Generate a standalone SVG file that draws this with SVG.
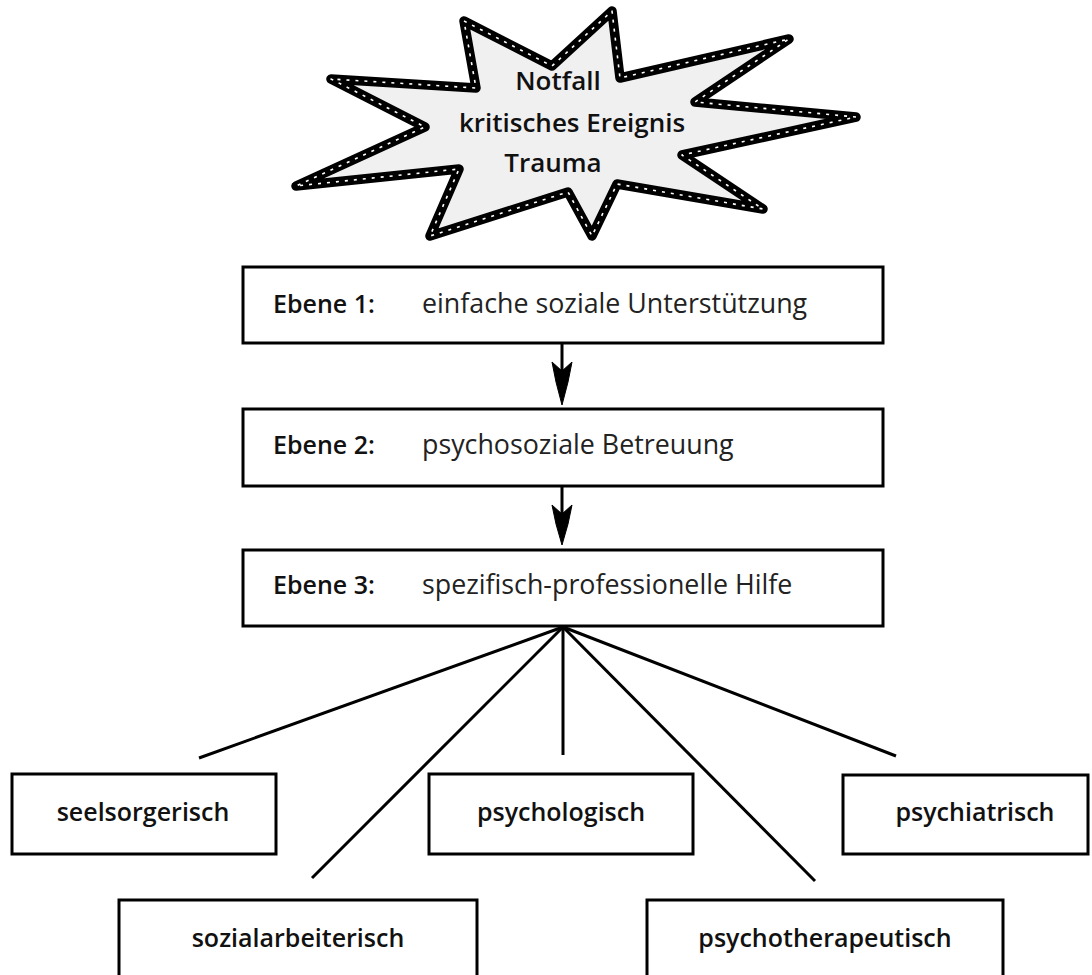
<svg xmlns="http://www.w3.org/2000/svg" width="1092" height="975" viewBox="0 0 1092 975">
  <defs>
    <style>
      .box { fill: #ffffff; stroke: #000000; stroke-width: 3; }
      .lbl { font-family: "Open Sans", "Liberation Sans", sans-serif; font-size: 25px; font-weight: 600; fill: #111111; text-anchor: middle; }
      .lvl { font-family: "Open Sans", "Liberation Sans", sans-serif; font-size: 25px; font-weight: 600; fill: #111111; }
      .desc { font-family: "Open Sans", "Liberation Sans", sans-serif; font-size: 26.8px; font-weight: 400; fill: #222222; }
      .star-text { font-family: "Open Sans", "Liberation Sans", sans-serif; font-size: 26px; font-weight: 600; fill: #111111; text-anchor: middle; }
      .conn { stroke: #000000; stroke-width: 3; fill: none; stroke-linecap: butt; }
      .head { fill: #000000; stroke: #000000; stroke-width: 1; stroke-linejoin: miter; }
    </style>
  </defs>

  <g id="star">
    <polygon points="464,21 552,66 612,11 620,78 789,39 695,102 856,117 682,155 763,209 617,184 592,236 568,192 430,236 459,169 296,186 425,127 331,79 476,88"
             fill="#f0f0f0" stroke="#000000" stroke-width="9.5" stroke-linejoin="round"/>
    <polygon points="464,21 552,66 612,11 620,78 789,39 695,102 856,117 682,155 763,209 617,184 592,236 568,192 430,236 459,169 296,186 425,127 331,79 476,88"
             fill="none" stroke="#ffffff" stroke-width="1.6" stroke-dasharray="3 6" stroke-linejoin="round"/>
    <text class="star-text" x="558" y="90">Notfall</text>
    <text class="star-text" x="572" y="132">kritisches Ereignis</text>
    <text class="star-text" x="553" y="172">Trauma</text>
  </g>

  <g id="ebene1">
    <rect class="box" x="243" y="267" width="640" height="76"/>
    <text class="lvl" x="273" y="313">Ebene 1:</text>
    <text class="desc" x="422" y="313">einfache soziale Unterstützung</text>
  </g>

  <g id="ebene2">
    <rect class="box" x="243" y="409" width="640" height="77"/>
    <text class="lvl" x="273" y="454">Ebene 2:</text>
    <text class="desc" x="422" y="454">psychosoziale Betreuung</text>
  </g>

  <g id="ebene3">
    <rect class="box" x="243" y="550" width="640" height="76"/>
    <text class="lvl" x="273" y="594">Ebene 3:</text>
    <text class="desc" x="422" y="594">spezifisch-professionelle Hilfe</text>
  </g>

  <g id="seelsorgerisch">
    <rect class="box" x="12" y="774" width="264" height="80"/>
    <text class="lbl" x="143" y="821">seelsorgerisch</text>
  </g>

  <g id="psychologisch">
    <rect class="box" x="429" y="774" width="264" height="80"/>
    <text class="lbl" x="561" y="821">psychologisch</text>
  </g>

  <g id="psychiatrisch">
    <rect class="box" x="843" y="775" width="245" height="79"/>
    <text class="lbl" x="975" y="821">psychiatrisch</text>
  </g>

  <g id="sozialarbeiterisch">
    <rect class="box" x="119" y="900" width="358" height="90"/>
    <text class="lbl" x="298" y="947">sozialarbeiterisch</text>
  </g>

  <g id="psychotherapeutisch">
    <rect class="box" x="647" y="900" width="356" height="90"/>
    <text class="lbl" x="825" y="947">psychotherapeutisch</text>
  </g>

  <g id="connectors">
    <line class="conn" x1="562" y1="343" x2="562" y2="372"/>
    <polygon class="head" points="562,371 552,362 556,382 562,405 568,382 572,362"/>
    <line class="conn" x1="562" y1="486" x2="562" y2="516"/>
    <polygon class="head" points="562,514 552,505 556,524 562,545 568,524 572,505"/>
    <line class="conn" x1="563" y1="627" x2="199" y2="758"/>
    <line class="conn" x1="563" y1="627" x2="312" y2="878"/>
    <line class="conn" x1="563" y1="627" x2="563" y2="755"/>
    <line class="conn" x1="563" y1="627" x2="815" y2="881"/>
    <line class="conn" x1="563" y1="627" x2="896" y2="756"/>
  </g>
</svg>
